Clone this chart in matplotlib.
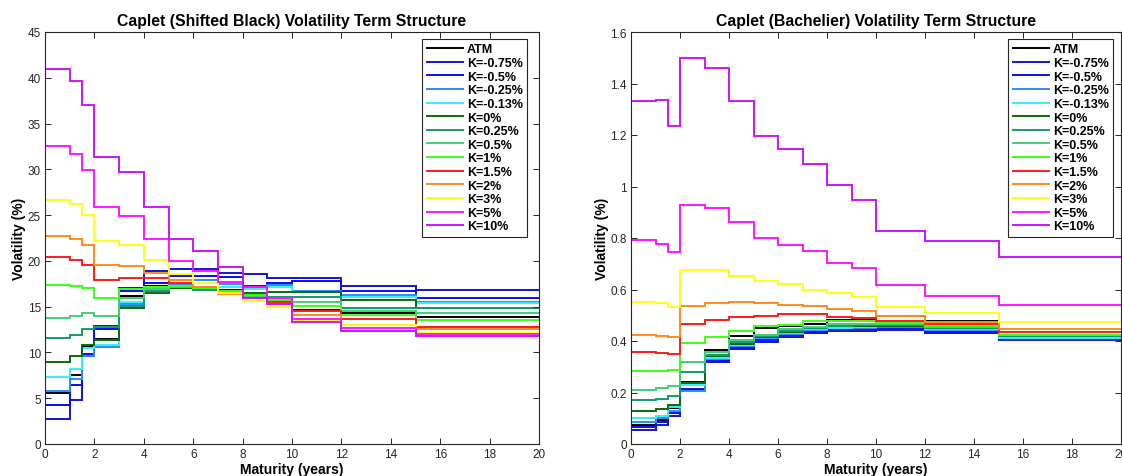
import numpy as np
import matplotlib
matplotlib.use("Agg")
import matplotlib.pyplot as plt

plt.rcParams['font.family'] = ['Liberation Sans', 'DejaVu Sans']

# Caplet maturity grid (years): volatility is piecewise constant between knots
maturities = [0, 1, 1.5, 2, 3, 4, 5, 6, 7, 8, 9, 10, 12, 15, 20]

labels = ['ATM', 'K=-0.75%', 'K=-0.5%', 'K=-0.25%', 'K=-0.13%', 'K=0%', 'K=0.25%',
          'K=0.5%', 'K=1%', 'K=1.5%', 'K=2%', 'K=3%', 'K=5%', 'K=10%']

colors = ['#000000', '#1414d2', '#0a0aff', '#2a8cff', '#33eeff', '#0b6b0b', '#139a72',
          '#45cc78', '#3cff14', '#ff1a1a', '#ff8a1a', '#ffff10', '#ff14ff', '#cc14ff']

# Shifted Black caplet volatilities (%)
black_atm  = [5.53, 7.5, 10.65, 11.5, 16.2, 17.3, 17.2, 17.0, 16.8, 16.3, 15.6, 14.6, 14.3, 13.9]
black_m075 = [2.7, 4.8, 9.6, 12.9, 17.0, 18.85, 19.1, 19.1, 18.7, 18.55, 18.1, 18.1, 17.3, 16.85]
black_m050 = [4.26, 6.44, 9.8, 12.55, 16.7, 17.6, 18.4, 18.3, 18.2, 17.3, 17.55, 17.75, 16.75, 16.0]
black_m025 = [5.8, 7.1, 9.6, 10.55, 15.3, 17.0, 17.5, 17.9, 17.5, 17.0, 17.4, 16.75, 16.25, 15.5]
black_m013 = [7.35, 8.2, 10.5, 10.85, 15.5, 17.1, 17.3, 17.6, 17.2, 16.9, 17.2, 16.6, 16.1, 15.35]
black_p000 = [9.0, 9.6, 10.85, 11.4, 14.8, 16.5, 17.0, 16.9, 16.7, 16.5, 16.6, 16.55, 15.7, 14.9]
black_p025 = [11.6, 11.9, 12.6, 12.8, 15.1, 16.7, 17.1, 16.8, 16.6, 16.2, 16.1, 16.1, 14.9, 14.85]
black_p050 = [13.75, 14.0, 14.3, 14.0, 15.9, 16.9, 17.2, 17.0, 16.6, 16.1, 15.8, 15.5, 14.5, 14.3]
black_p100 = [17.4, 17.3, 17.0, 16.0, 16.9, 17.2, 17.3, 17.0, 16.7, 16.3, 15.7, 15.1, 14.1, 13.5]
black_p150 = [20.4, 20.1, 19.6, 17.9, 18.1, 18.1, 17.6, 17.1, 16.5, 15.9, 15.5, 14.55, 13.65, 12.8]
black_p200 = [22.7, 22.4, 21.7, 19.5, 19.4, 18.7, 17.9, 17.2, 16.4, 15.6, 15.3, 14.1, 13.0, 12.55]
black_p300 = [26.7, 26.2, 25.0, 22.2, 21.7, 20.1, 18.6, 17.6, 16.45, 15.65, 15.0, 13.5, 13.0, 12.1]
black_p500 = [32.6, 31.7, 29.9, 25.9, 24.9, 22.4, 20.0, 18.9, 17.65, 17.1, 15.9, 13.6, 12.7, 12.0]
black_p1000 = [41.0, 39.7, 37.0, 31.3, 29.7, 25.9, 22.4, 21.1, 19.3, 16.0, 15.3, 13.3, 12.35, 11.8]

# Bachelier (normal) caplet volatilities (%)
bach_atm  = [0.075, 0.094, 0.139, 0.240, 0.366, 0.418, 0.449, 0.459, 0.466, 0.483, 0.485, 0.496, 0.479, 0.425]
bach_m075 = [0.054, 0.075, 0.110, 0.214, 0.317, 0.369, 0.395, 0.417, 0.430, 0.440, 0.440, 0.444, 0.431, 0.405]
bach_m050 = [0.065, 0.084, 0.119, 0.210, 0.322, 0.374, 0.402, 0.422, 0.436, 0.445, 0.446, 0.449, 0.436, 0.408]
bach_m025 = [0.087, 0.100, 0.130, 0.207, 0.330, 0.380, 0.410, 0.428, 0.442, 0.450, 0.451, 0.455, 0.442, 0.410]
bach_m013 = [0.100, 0.110, 0.143, 0.229, 0.335, 0.385, 0.414, 0.432, 0.446, 0.452, 0.454, 0.457, 0.445, 0.413]
bach_p000 = [0.127, 0.136, 0.151, 0.238, 0.340, 0.390, 0.416, 0.436, 0.450, 0.458, 0.460, 0.460, 0.449, 0.418]
bach_p025 = [0.171, 0.175, 0.188, 0.278, 0.345, 0.395, 0.418, 0.440, 0.452, 0.460, 0.462, 0.462, 0.452, 0.420]
bach_p050 = [0.211, 0.216, 0.226, 0.317, 0.356, 0.405, 0.425, 0.445, 0.456, 0.465, 0.466, 0.465, 0.455, 0.422]
bach_p100 = [0.285, 0.285, 0.289, 0.391, 0.414, 0.440, 0.457, 0.462, 0.476, 0.479, 0.479, 0.470, 0.458, 0.425]
bach_p150 = [0.356, 0.355, 0.350, 0.466, 0.482, 0.494, 0.499, 0.503, 0.505, 0.494, 0.490, 0.479, 0.466, 0.434]
bach_p200 = [0.423, 0.421, 0.414, 0.537, 0.546, 0.550, 0.546, 0.541, 0.535, 0.524, 0.518, 0.498, 0.475, 0.447]
bach_p300 = [0.553, 0.546, 0.531, 0.676, 0.676, 0.654, 0.632, 0.621, 0.599, 0.585, 0.570, 0.533, 0.507, 0.475]
bach_p500 = [0.791, 0.777, 0.747, 0.929, 0.915, 0.861, 0.800, 0.774, 0.748, 0.703, 0.683, 0.617, 0.576, 0.541]
bach_p1000 = [1.333, 1.336, 1.234, 1.499, 1.459, 1.332, 1.197, 1.147, 1.086, 1.006, 0.949, 0.827, 0.788, 0.726]

black_curves = [black_atm, black_m075, black_m050, black_m025, black_m013, black_p000, black_p025,
                black_p050, black_p100, black_p150, black_p200, black_p300, black_p500, black_p1000]
bach_curves = [bach_atm, bach_m075, bach_m050, bach_m025, bach_m013, bach_p000, bach_p025,
               bach_p050, bach_p100, bach_p150, bach_p200, bach_p300, bach_p500, bach_p1000]

W, H = 1122, 477
fig = plt.figure(figsize=(W / 100, H / 100), dpi=100)
ax1 = fig.add_axes([45 / W, 32 / H, 494 / W, 412 / H])
ax2 = fig.add_axes([631 / W, 32 / H, 490 / W, 412 / H])


def draw_panel(ax, curves, title, ylim, yticks, width_px, leg_gap):
    for vals, lab, col in zip(curves, labels, colors):
        ax.stairs(vals, maturities, baseline=None, color=col, lw=1.4, label=lab)
    ax.set_xlim(0, 20)
    ax.set_ylim(*ylim)
    ax.set_xticks(np.arange(0, 21, 2))
    ax.set_yticks(yticks)
    ax.set_yticklabels([f'{v:g}' for v in yticks])
    ax.tick_params(direction='in', top=True, right=True, length=4, width=0.7,
                   labelsize=8.5, colors='#262626', pad=3)
    for s in ax.spines.values():
        s.set_linewidth(0.8)
        s.set_color('#262626')
    ax.set_title(title, fontsize=11.3, fontweight='bold', pad=5)
    ax.set_xlabel('Maturity (years)', fontsize=10, fontweight='bold', labelpad=1.5)
    ax.set_ylabel('Volatility (%)', fontsize=10, fontweight='bold', labelpad=1)
    leg = ax.legend(loc='upper right', bbox_to_anchor=(1 - leg_gap / width_px, 1 - 7 / 412),
                    borderaxespad=0, fancybox=False, framealpha=1, edgecolor='#262626',
                    prop={'weight': 'bold', 'size': 9}, labelspacing=0.13,
                    handlelength=2.9, handletextpad=0.3, borderpad=0.35)
    leg.get_frame().set_linewidth(0.8)


draw_panel(ax1, black_curves, 'Caplet (Shifted Black) Volatility Term Structure',
           (0, 45), np.arange(0, 46, 5), 494, 12)
draw_panel(ax2, bach_curves, 'Caplet (Bachelier) Volatility Term Structure',
           (0, 1.6), np.round(np.arange(0, 1.61, 0.2), 1), 490, 8)

fig.savefig('out.png', dpi=100)
